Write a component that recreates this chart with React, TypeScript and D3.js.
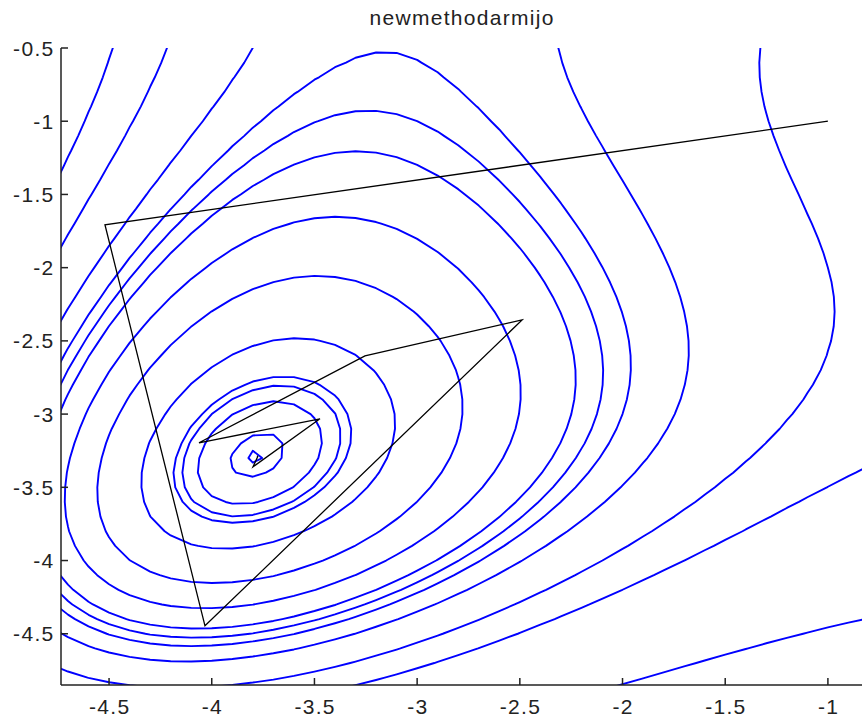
import React from 'react';
import * as d3 from 'd3';

// Canvas
const W = 862;
const H = 723;

// Axis ticks
const xTicks = [-4.5, -4, -3.5, -3, -2.5, -2, -1.5, -1];
const yTicks = [-0.5, -1, -1.5, -2, -2.5, -3, -3.5, -4, -4.5];
const xTickLabels = ['-4.5', '-4', '-3.5', '-3', '-2.5', '-2', '-1.5', '-1'];
const yTickLabels = ['-0.5', '-1', '-1.5', '-2', '-2.5', '-3', '-3.5', '-4', '-4.5'];

// Contour levels of the objective
const contourLevels = [0.2, 1, 5, 8, 10, 20, 40, 60, 80, 90, 100, 120, 160, 200, 350];

// Iterates of the Armijo line-search method
const iterX = [-1, -4.52, -4.033, -2.489, -3.254, -4.062, -3.473, -3.799, -3.776, -3.7793];
const iterY = [-1, -1.707, -4.446, -2.357, -2.602, -3.196, -3.032, -3.36, -3.29, -3.2832];

// Sampling grid for the objective surface
const GRID_STEP = 0.1;
const GRID_X0 = -5.0;
const GRID_Y0 = -5.2;
const GRID_NX = 46;
const GRID_NY = 52;

const himmelblau = (a: number, b: number) =>
  (a * a + b - 11) ** 2 + (a + b * b - 7) ** 2;

const TITLE = 'newmethodarmijo';
const FONT = '"Liberation Sans", Arial, Helvetica, sans-serif';

export default function App() {
  const left = 61;
  const right = 862;
  const top = 48;
  const bottom = 685;

  const x = d3.scaleLinear().domain([-4.734, -0.834]).range([left, right]);
  const y = d3.scaleLinear().domain([-4.85, -0.5]).range([bottom, top]);

  const values: number[] = new Array(GRID_NX * GRID_NY);
  for (let j = 0; j < GRID_NY; j++) {
    const gy = Math.round((GRID_Y0 + j * GRID_STEP) * 10) / 10;
    for (let i = 0; i < GRID_NX; i++) {
      const gx = Math.round((GRID_X0 + i * GRID_STEP) * 10) / 10;
      values[j * GRID_NX + i] = himmelblau(gx, gy);
    }
  }

  const contours = d3.contours().size([GRID_NX, GRID_NY]).thresholds(contourLevels)(values);

  // grid cell centre (i + 0.5) maps onto sample i
  const projection = d3.geoTransform({
    point(px: number, py: number) {
      this.stream.point(
        x(GRID_X0 + (px - 0.5) * GRID_STEP),
        y(GRID_Y0 + (py - 0.5) * GRID_STEP)
      );
    },
  });
  const geoPath = d3.geoPath(projection);

  const iterLine = d3
    .line<number>()
    .x((_, i) => x(iterX[i]))
    .y((_, i) => y(iterY[i]));

  const tickLen = 7;

  return (
    <svg
      width={W}
      height={H}
      viewBox={`0 0 ${W} ${H}`}
      style={{ position: 'absolute', left: 0, top: 0, background: '#fff' }}
    >
      <defs>
        <clipPath id="plot-area">
          <rect x={left} y={top} width={right - left} height={bottom - top} />
        </clipPath>
      </defs>
      <rect x={0} y={0} width={W} height={H} fill="#fff" />

      <g clipPath="url(#plot-area)">
        {contours.map((c, k) => (
          <path
            key={k}
            d={geoPath(c as any) || ''}
            fill="none"
            stroke="#0000ff"
            strokeWidth={1.9}
            strokeLinejoin="round"
          />
        ))}
        <path
          d={iterLine(iterX) || ''}
          fill="none"
          stroke="#000"
          strokeWidth={1.3}
        />
      </g>

      {/* axes */}
      <g stroke="#222" strokeWidth={1.5} fill="none">
        <line x1={left} y1={top} x2={left} y2={bottom} />
        <line x1={left} y1={bottom} x2={right} y2={bottom} />
        {xTicks.map((t) => (
          <line key={`xt${t}`} x1={x(t)} x2={x(t)} y1={bottom} y2={bottom - tickLen} />
        ))}
        {yTicks.map((t) => (
          <line key={`yt${t}`} x1={left} x2={left + tickLen} y1={y(t)} y2={y(t)} />
        ))}
      </g>

      <g fontFamily={FONT} fontSize={21} letterSpacing={1.3} fill="#222">
        {xTicks.map((t, i) => (
          <text key={`xl${t}`} x={x(t) + 0.65} y={714} textAnchor="middle">
            {xTickLabels[i]}
          </text>
        ))}
        {yTicks.map((t, i) => (
          <text key={`yl${t}`} x={54.5} y={y(t)} dy="0.36em" textAnchor="end">
            {yTickLabels[i]}
          </text>
        ))}
        <text x={(left + right) / 2 + 0.65} y={25} textAnchor="middle">
          {TITLE}
        </text>
      </g>
    </svg>
  );
}
